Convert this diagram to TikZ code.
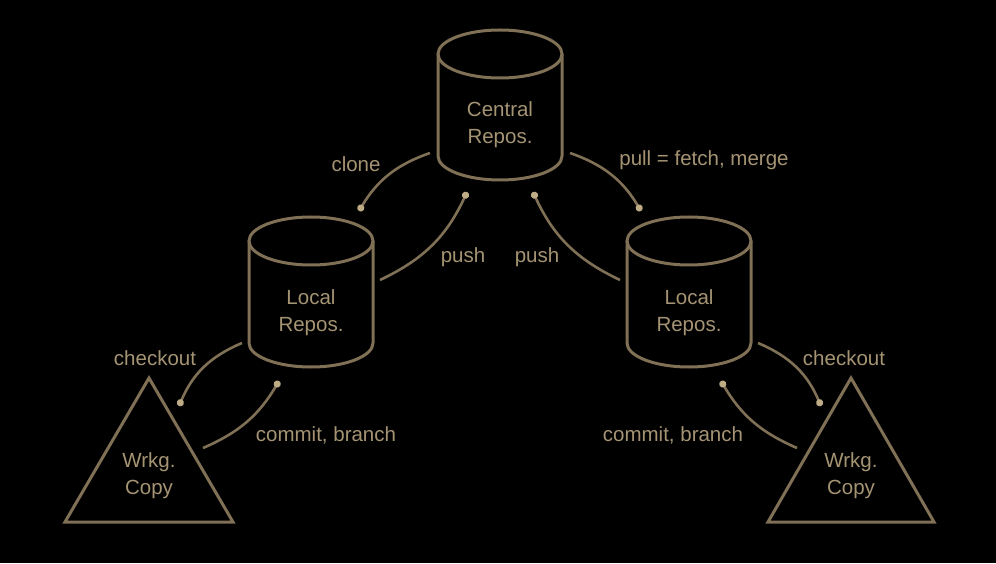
\documentclass[tikz,border=0pt]{standalone}
\usepackage{fontspec}
\setmainfont{Liberation Sans}
\usetikzlibrary{arrows.meta}
\definecolor{linec}{RGB}{128,112,86}
\definecolor{dotc}{RGB}{190,172,135}
\definecolor{textc}{RGB}{165,148,116}
\tikzset{
  extent/.style={minimum width=#1, inner sep=0pt, outer sep=0pt, draw=none},
  shp/.style={draw=linec, line width=3pt},
  lbl/.style={text=textc, font=\fontsize{20.5}{27}\selectfont, align=center, inner sep=0pt},
  conn/.style={draw=linec, line width=2.6pt, -{Circle[length=7pt,width=7pt,color=dotc]}},
}
\newcommand\drawcyl[1]{%
  \draw[shp] ([yshift=-24pt]#1.north) ellipse[x radius=62pt, y radius=24pt];
  \draw[shp] ([yshift=-24pt]#1.north west) -- ([yshift=24pt]#1.south west)
     arc[start angle=180, end angle=360, x radius=62pt, y radius=24pt]
     -- ([yshift=-24pt]#1.north east);}
\newcommand\drawtri[1]{%
  \draw[shp, line join=miter] (#1.south west) -- (#1.north) -- (#1.south east) -- cycle;}
\begin{document}
\begin{tikzpicture}[x=1pt, y=1pt]
\fill[black] (0,0) rectangle (996,563);
\useasboundingbox (0,0) rectangle (996,563);
% shapes
\node[extent=124pt, minimum height=150pt] (central) at (500,458) {};
\node[extent=124pt, minimum height=150pt] (localL) at (311,271) {};
\node[extent=124pt, minimum height=150pt] (localR) at (689,271) {};
\node[extent=168pt, minimum height=144pt] (wcL) at (149,113) {};
\node[extent=166pt, minimum height=144pt] (wcR) at (851,113) {};
\drawcyl{central}
\drawcyl{localL}
\drawcyl{localR}
\drawtri{wcL}
\drawtri{wcR}
% texts inside shapes
\node[lbl] (centralT) at (500,438) {Central\\Repos.};
\node[lbl] (localLT) at (311,250) {Local\\Repos.};
\node[lbl] (localRT) at (689,250) {Local\\Repos.};
\node[lbl] (wcLT) at (149,87) {Wrkg.\\Copy};
\node[lbl] (wcRT) at (851,87) {Wrkg.\\Copy};
% connectors
\draw[conn] ([shift={(-8,27)}]central.south west) to[bend right=20] ([shift={(48,6)}]localL.north);
\draw[conn] ([shift={(8,27)}]central.south east) to[bend left=20] ([shift={(-48,6)}]localR.north);
\draw[conn] ([shift={(7,12)}]localL.east) to[bend right=20] ([shift={(-33,-12)}]central.south);
\draw[conn] ([shift={(-7,12)}]localR.west) to[bend left=20] ([shift={(33,-12)}]central.south);
\draw[conn] ([shift={(-7,-51)}]localL.west) to[bend right=22] ([shift={(30,-28)}]wcL.north);
\draw[conn] ([shift={(7,-51)}]localR.east) to[bend left=22] ([shift={(-30,-28)}]wcR.north);
\draw[conn] ([shift={(54,-70)}]wcL.north) to[bend right=18] ([shift={(-32,-14)}]localL.south);
\draw[conn] ([shift={(-54,-70)}]wcR.north) to[bend left=18] ([shift={(32,-14)}]localR.south);
% connector labels
\node[lbl] (cloneL) at (356,399) {clone};
\node[lbl] (pullL) at (704,403) {pull = fetch, merge};
\node[lbl] (pushLL) at (463,306) {push};
\node[lbl] (pushRL) at (537,306) {push};
\node[lbl] (coL) at (155,205) {checkout};
\node[lbl] (coR) at (844,205) {checkout};
\node[lbl] (cbL) at (326,128) {commit, branch};
\node[lbl] (cbR) at (673,128) {commit, branch};
\end{tikzpicture}
\end{document}
